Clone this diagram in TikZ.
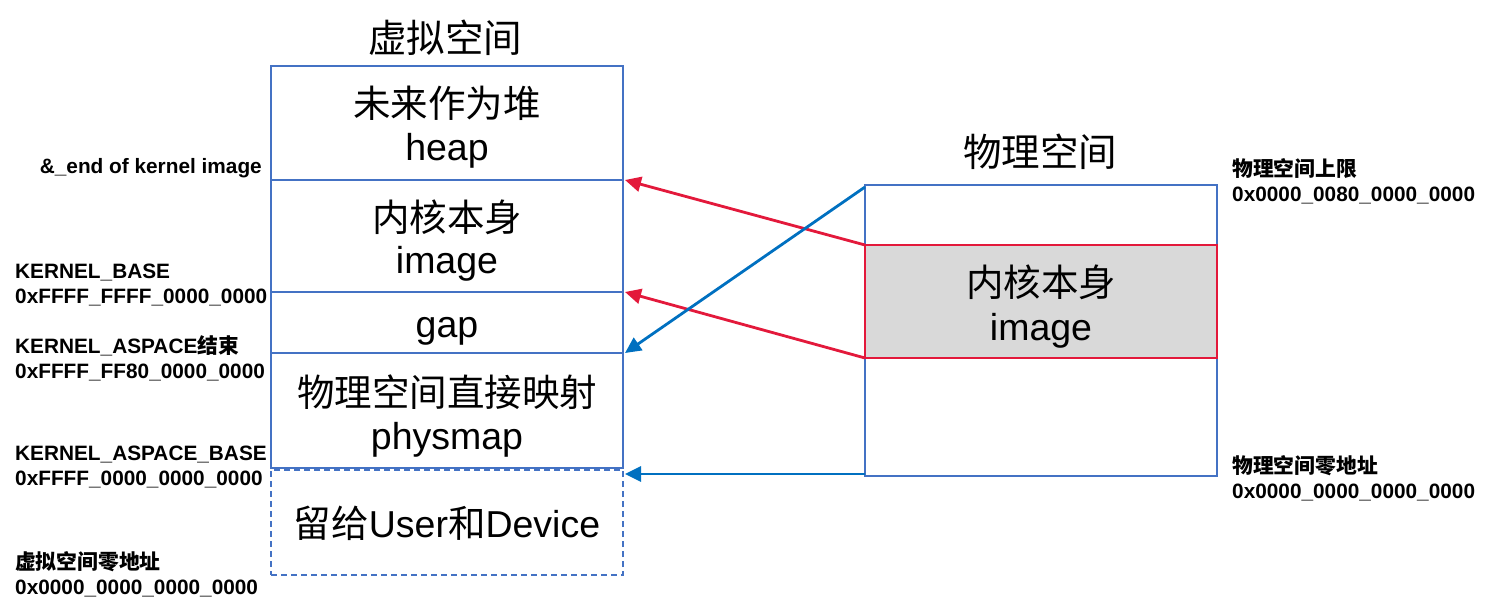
\documentclass[tikz,border=0pt]{standalone}
\usepackage{fontspec}
\setmainfont{Liberation Sans}
\newfontfamily\cjk{Noto Sans CJK SC}
\usetikzlibrary{arrows.meta}
\definecolor{boxblue}{HTML}{4472C4}
\definecolor{arrred}{HTML}{E3193B}
\definecolor{arrblue}{HTML}{0070C0}
\definecolor{imggray}{HTML}{D9D9D9}
\newcommand\lowr[2]{\raisebox{-#1}[\height][\depth]{#2}}
\begin{document}
\begin{tikzpicture}[x=1pt,y=-1pt,
  vbox/.style={draw=boxblue,line width=1.5pt,rectangle,inner sep=0pt,outer sep=0pt,
    minimum width=352pt,anchor=north west,align=center,
    font=\fontsize{37.5}{44}\selectfont},
  pbox/.style={vbox},
  lbl/.style={inner sep=0pt,align=left,font=\bfseries\fontsize{20.8}{25}\selectfont},
  ttl/.style={inner sep=0pt,font=\fontsize{38.5}{44}\selectfont\cjk},
  redarr/.style={draw=arrred,line width=2.8pt,-{Triangle[length=16pt,width=15pt]}},
  bluearr/.style={draw=arrblue,line width=2.8pt,-{Triangle[length=16pt,width=15pt]}}]
\useasboundingbox (0,0) rectangle (1508,610);
% virtual space
\node[ttl] (vtitle) at (445,38) {虚拟空间};
\node[vbox,minimum height=114pt] (heap) at (271,66) {\lowr{5pt}{\cjk 未来作为堆}\\\lowr{4pt}{heap}};
\node[vbox,minimum height=112pt] (image) at (271,180) {\lowr{6pt}{\cjk 内核本身}\\\lowr{4pt}{image}};
\node[vbox,minimum height=61pt] (gap) at (271,292) {\lowr{9pt}{gap}};
\node[vbox,minimum height=115pt] (physmap) at (271,353) {\lowr{6pt}{\cjk 物理空间直接映射}\\\lowr{5pt}{physmap}};
\node[vbox,minimum height=105pt,dashed,dash pattern=on 6pt off 4pt] (user) at (271,470) {\lowr{1pt}{{\cjk 留给}User{\cjk 和}Device}};
% physical space
\node[ttl] (ptitle) at (1040,152) {物理空间};
\node[pbox,minimum height=291pt] (phys) at (865,185) {};
\node[pbox,draw=arrred,fill=imggray,minimum height=113pt] (pimg) at (865,245) {\lowr{5pt}{\cjk 内核本身}\\\lowr{5pt}{image}};
% labels left
\node[lbl,anchor=east] (lend) at (262,168) {\&\_end of kernel image};
\node[lbl,anchor=west] (lkb) at (15,285) {KERNEL\_BASE\\0xFFFF\_FFFF\_0000\_0000};
\node[lbl,anchor=west] (lke) at (15,358) {KERNEL\_ASPACE{\cjk 结束}\\0xFFFF\_FF80\_0000\_0000};
\node[lbl,anchor=west] (lkab) at (15,467) {KERNEL\_ASPACE\_BASE\\0xFFFF\_0000\_0000\_0000};
\node[lbl,anchor=west] (lvz) at (15,574) {{\cjk 虚拟空间零地址}\\0x0000\_0000\_0000\_0000};
% labels right
\node[lbl,anchor=west] (lpu) at (1232,181) {{\cjk 物理空间上限}\\0x0000\_0080\_0000\_0000};
\node[lbl,anchor=west] (lpz) at (1232,478) {{\cjk 物理空间零地址}\\0x0000\_0000\_0000\_0000};
% arrows
\draw[redarr] (pimg.north west) -- ([xshift=2pt]image.north east);
\draw[redarr] (pimg.south west) -- ([xshift=2pt]gap.north east);
\draw[bluearr] ([yshift=-2pt]phys.north west) -- ([xshift=2pt]physmap.north east);
\draw[bluearr] ([yshift=2pt]phys.south west) -- ([yshift=2pt,xshift=2pt]phys.south west -| user.east);
\end{tikzpicture}
\end{document}
